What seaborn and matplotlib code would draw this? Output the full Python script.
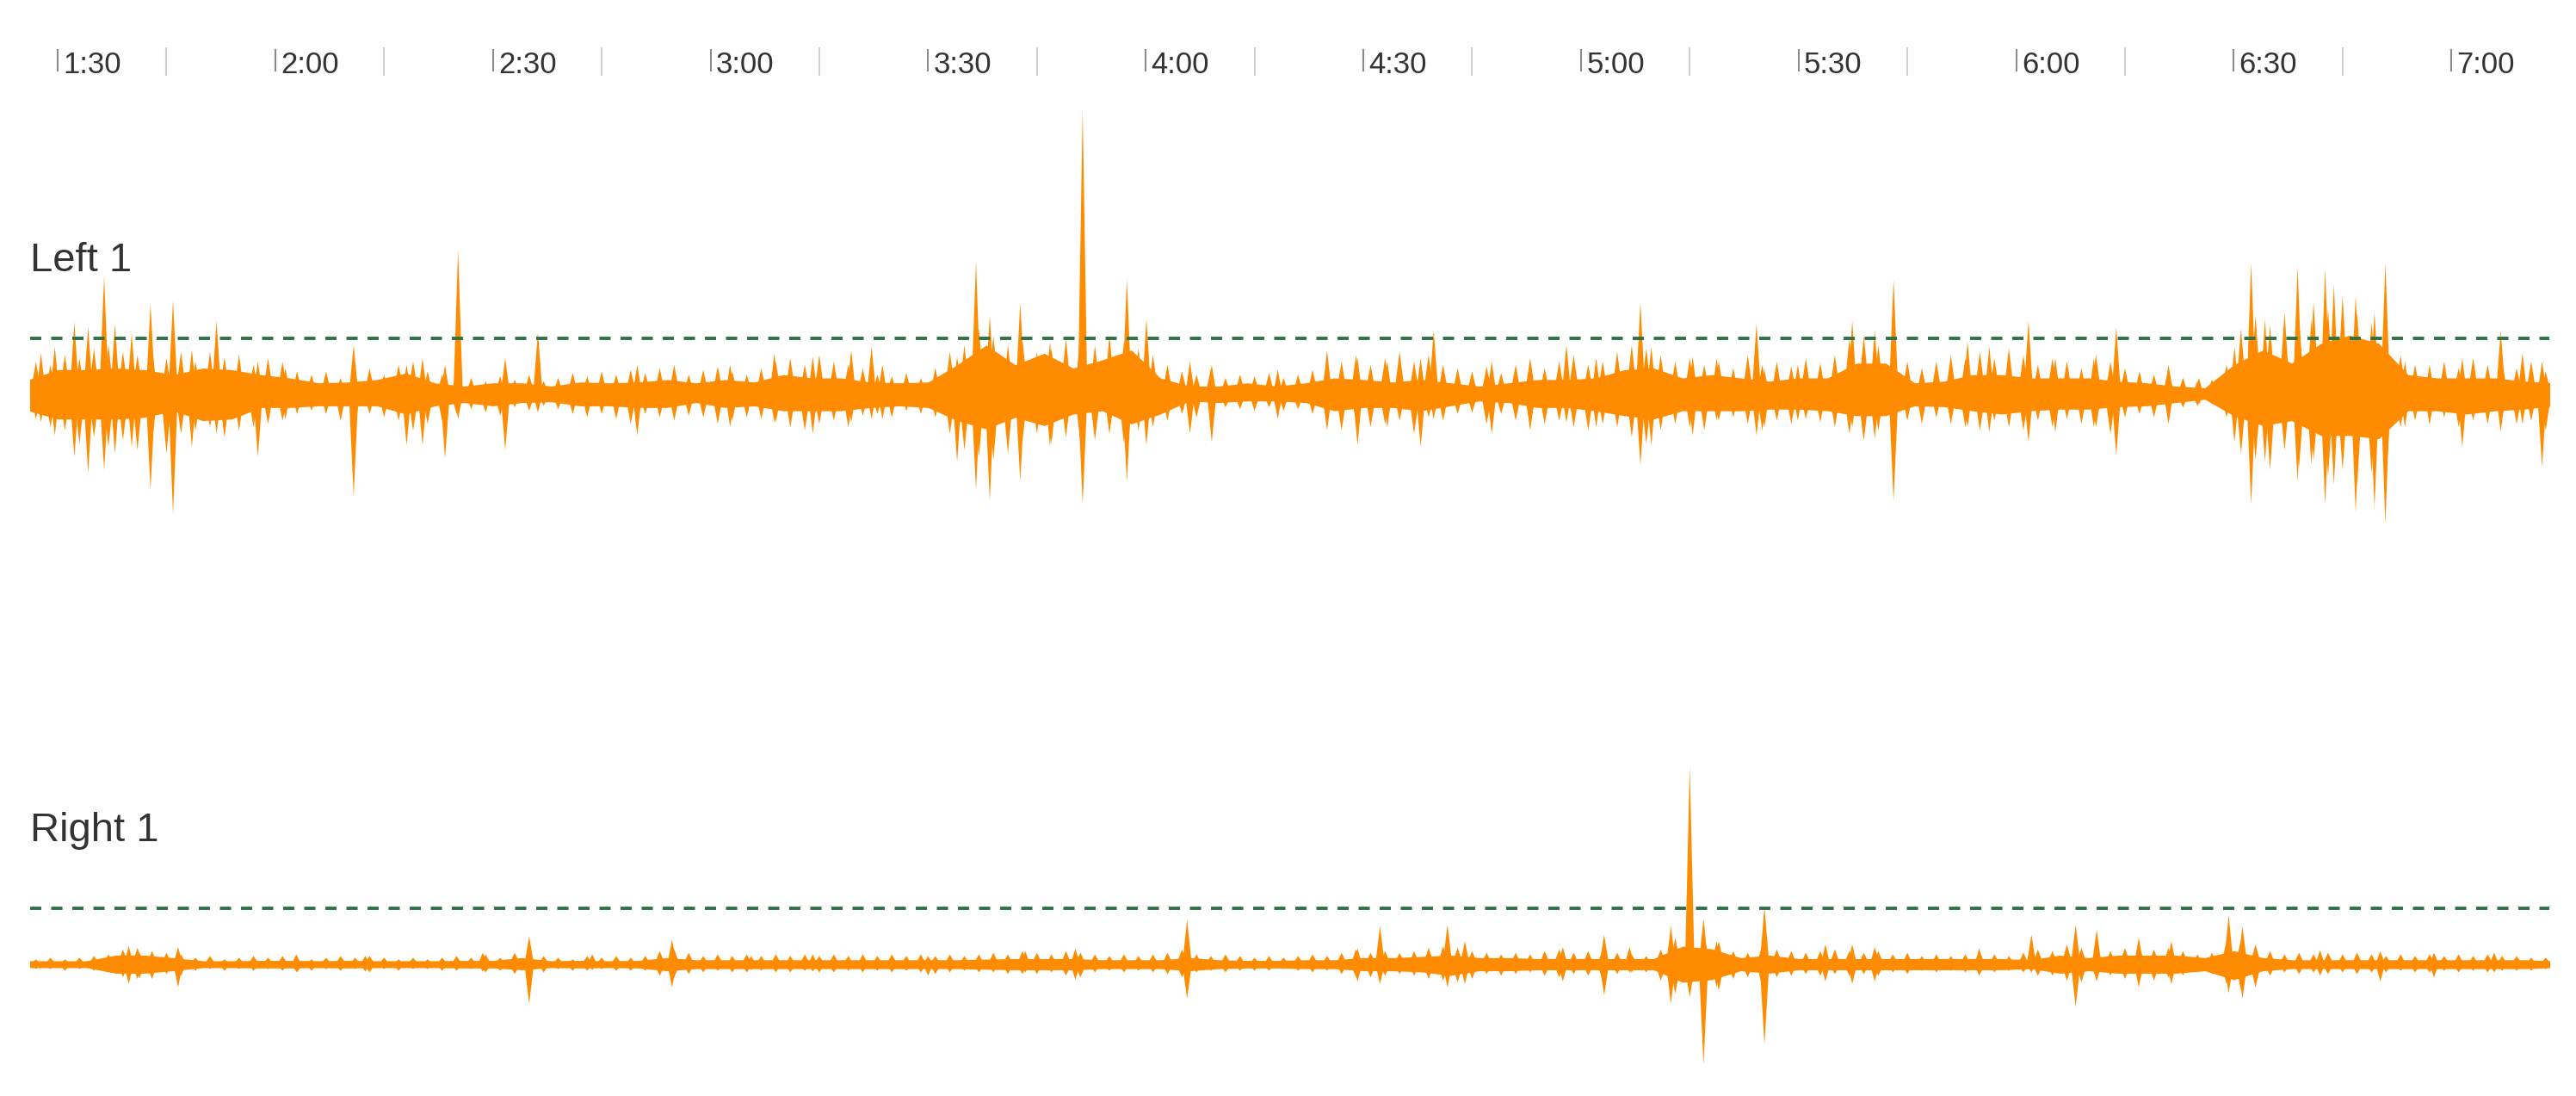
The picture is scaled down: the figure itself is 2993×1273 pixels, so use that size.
import numpy as np
import pandas as pd
import seaborn as sns
import matplotlib.pyplot as plt

# time window shown (seconds) and the alert threshold level
T_START, T_END = 86.2, 433.5
THRESHOLD = 34

# time axis
tick_seconds = [90, 120, 150, 180, 210, 240, 270, 300, 330, 360, 390, 420]
tick_labels = ["1:30", "2:00", "2:30", "3:00", "3:30", "4:00", "4:30", "5:00",
               "5:30", "6:00", "6:30", "7:00"]
minor_tick_seconds = [105, 135, 165, 195, 225, 255, 285, 315, 345, 375, 405]

# solid core of the waveform, one value every 4 s starting at 86 s
CORE_T0, CORE_STEP = 86, 4
left_core_up = [9, 15, 15, 16, 15, 12, 16, 15, 12, 10, 7, 7.5, 9, 13, 7, 5, 7, 7, 5, 7.5,
                7, 7.5, 9, 7, 9, 7.5, 12, 10, 10, 7.5, 7, 7.5, 18, 30, 18, 25, 16, 21, 27, 10,
                5, 5, 7, 5, 7, 10, 9, 7.5, 9, 7, 5, 7, 9, 9, 10, 15, 16, 10, 12, 10,
                8, 10, 10, 19, 19, 7, 8, 12, 12, 10, 10, 10, 8, 7, 5, 4, 18, 27,
                19, 31, 36, 31, 12, 10, 10, 10, 8, 7]
left_core_down = [10, 15, 15, 15, 14, 10, 16, 15, 8, 8, 7, 7, 7, 12, 7, 5, 7, 5, 4.5, 7,
                  7, 8, 8, 5, 8, 7, 10, 10, 10, 8, 7, 8, 16, 21, 14, 19, 12, 10, 18, 12,
                  4, 5, 4, 4, 5, 10, 8, 8, 10, 7, 4, 5, 8, 8, 10, 13, 15, 10, 10, 10,
                  9, 9, 10, 13, 13, 7, 7.5, 10, 12, 10, 9, 9, 7.5, 7, 5, 3, 13, 19,
                  16, 25, 25, 27, 10, 10, 12, 10, 9, 7]
right_core_up = [2.1, 2.1, 2.1, 5.5, 5.5, 3.9, 2.1, 2.1, 2.3, 2.3, 2.1, 2.3, 2.1, 2.1, 2.1, 2.3, 2.3, 4, 2.1, 2.3,
                 2.1, 2.3, 4, 2.7, 2.7, 2.7, 2.7, 2.7, 2.7, 2.7, 2.7, 2.7, 2.7, 3.1, 3.4, 3.4, 3.4, 2.7, 2.7, 2.7,
                 4, 2.7, 2.3, 2.3, 2.7, 2.7, 4, 4, 4.7, 5.5, 4, 4, 3.4, 3.4, 3.4, 3.4, 3.4, 11, 9.4, 4,
                 5.5, 3.4, 3.4, 3.4, 3.4, 3.4, 3.4, 3.4, 3.4, 2.7, 5.5, 4, 5.5, 5.5, 5.5, 4, 8.2, 4,
                 2.7, 2.7, 2.7, 2.7, 2.7, 2.7, 2.7, 2.7, 2.7, 2.1]
right_core_down = [2.1, 2.1, 2.1, 5.5, 5.5, 3.9, 2.1, 2.1, 2.3, 2.3, 2.1, 2.3, 2.1, 2.1, 2.1, 2.3, 2.3, 3.4, 2.1, 2.3,
                   2.1, 2.3, 4, 2.7, 2.7, 2.7, 2.7, 2.7, 2.7, 2.7, 2.7, 2.7, 2.7, 3.1, 3.4, 3.4, 3.4, 2.7, 2.7, 2.7,
                   4, 2.7, 2.3, 2.3, 2.7, 2.7, 4, 4, 4.7, 6.8, 4, 4, 3.4, 3.4, 3.4, 3.4, 3.4, 11, 9.4, 4,
                   5.5, 3.4, 3.4, 3.4, 3.4, 3.4, 3.4, 3.4, 3.4, 2.7, 5.5, 4, 5.5, 5.5, 5.5, 4, 9.4, 4,
                   2.7, 2.7, 2.7, 2.7, 2.7, 2.7, 2.7, 2.7, 2.7, 2.1]

# peak of the fine hair-like peaks in each 2 s step, starting at 87 s
HAIR_T0, HAIR_STEP = 87, 2
left_hair_up = [20, 18, 24, 22, 28, 30, 26, 24, 30, 22,
                26, 20, 26, 22, 24, 18, 22, 20, 14, 12,
                14, 10, 13, 16, 12, 18, 20, 14, 12, 14,
                10, 8, 11, 9, 12, 8, 10, 13, 11, 14,
                12, 15, 13, 16, 18, 12, 15, 17, 14, 12,
                16, 20, 22, 18, 24, 20, 18, 16, 12, 11,
                13, 10, 16, 26, 30, 40, 36, 30, 34, 26,
                28, 34, 38, 30, 36, 32, 28, 24, 18, 14,
                12, 16, 10, 12, 11, 13, 10, 12, 15, 22,
                20, 24, 18, 22, 26, 20, 24, 18, 16, 14,
                17, 13, 18, 22, 16, 20, 24, 18, 20, 26,
                30, 28, 24, 20, 22, 18, 20, 16, 24, 18,
                20, 17, 22, 19, 24, 34, 36, 30, 28, 20,
                16, 20, 24, 22, 26, 22, 28, 24, 18, 22,
                20, 16, 24, 20, 16, 14, 12, 16, 10, 8,
                9, 18, 40, 48, 42, 50, 46, 56, 52, 60,
                50, 44, 40, 24, 18, 16, 20, 16, 22, 18,
                20, 16, 20, 14]
left_hair_down = [15, 20, 22, 30, 26, 32, 28, 34, 30, 36,
                  24, 22, 20, 26, 22, 20, 18, 16, 12, 10,
                  12, 16, 18, 12, 14, 16, 22, 18, 16, 12,
                  9, 11, 13, 8, 10, 7, 9, 12, 14, 12,
                  15, 18, 12, 14, 16, 13, 14, 18, 16, 14,
                  15, 17, 20, 22, 18, 16, 20, 13, 12, 14,
                  10, 12, 14, 24, 34, 38, 40, 36, 28, 24,
                  30, 26, 30, 28, 24, 30, 22, 20, 16, 12,
                  14, 10, 8, 9, 10, 8, 10, 9, 12, 18,
                  22, 16, 20, 18, 16, 24, 14, 16, 12, 11,
                  18, 12, 16, 20, 18, 16, 20, 22, 18, 20,
                  26, 30, 22, 18, 20, 22, 16, 14, 18, 22,
                  16, 18, 15, 17, 20, 24, 28, 22, 30, 16,
                  18, 14, 18, 20, 22, 16, 20, 22, 16, 20,
                  15, 18, 20, 24, 14, 12, 14, 12, 8, 7,
                  6, 14, 36, 40, 46, 34, 44, 40, 50, 46,
                  56, 48, 52, 20, 16, 18, 14, 20, 16, 18,
                  14, 18, 16, 22]
right_hair_up = [3, 4, 3, 4, 5, 6, 9, 10, 8, 7,
                 6, 4, 5, 3, 4, 5, 4, 5, 4, 3,
                 4, 5, 4, 5, 4, 3, 4, 3, 4, 5,
                 4, 6, 4, 7, 8, 5, 4, 3, 5, 4,
                 5, 4, 5, 8, 9, 7, 5, 6, 5, 6,
                 5, 6, 5, 6, 5, 6, 5, 6, 5, 6,
                 5, 6, 5, 6, 5, 6, 7, 6, 8, 7,
                 6, 8, 7, 6, 5, 6, 5, 6, 7, 9,
                 6, 5, 6, 5, 4, 5, 4, 5, 6, 5,
                 7, 9, 7, 8, 7, 8, 10, 11, 10, 8,
                 7, 6, 7, 6, 8, 9, 7, 8, 9, 7,
                 6, 5, 9, 16, 18, 16, 14, 8, 7, 12,
                 9, 8, 7, 8, 9, 8, 7, 8, 6, 7,
                 5, 6, 5, 6, 7, 6, 5, 7, 9, 8,
                 12, 10, 9, 8, 10, 11, 9, 10, 8, 6,
                 7, 14, 15, 12, 8, 6, 7, 6, 7, 6,
                 7, 6, 5, 6, 5, 6, 5, 6, 5, 6,
                 5, 5, 4, 4]
right_hair_down = [3, 3, 4, 3, 4, 5, 8, 9, 9, 6,
                   7, 4, 3, 4, 3, 4, 3, 4, 5, 4,
                   3, 4, 3, 5, 3, 4, 3, 3, 4, 4,
                   3, 5, 4, 6, 7, 5, 3, 4, 4, 3,
                   4, 4, 4, 7, 8, 6, 5, 4, 5, 5,
                   4, 5, 5, 4, 5, 5, 4, 5, 4, 5,
                   4, 5, 6, 5, 4, 5, 5, 6, 6, 6,
                   5, 7, 8, 5, 4, 5, 4, 5, 6, 8,
                   5, 4, 5, 4, 4, 4, 3, 4, 5, 4,
                   6, 8, 8, 7, 6, 7, 9, 10, 11, 9,
                   6, 7, 6, 5, 7, 8, 6, 7, 10, 6,
                   5, 5, 10, 18, 20, 22, 16, 9, 8, 14,
                   8, 7, 6, 7, 6, 7, 6, 7, 5, 6,
                   4, 5, 4, 5, 6, 5, 4, 5, 7, 7,
                   10, 11, 8, 7, 9, 10, 10, 8, 7, 5,
                   6, 12, 16, 14, 7, 5, 6, 5, 6, 5,
                   6, 5, 5, 4, 5, 5, 4, 5, 4, 5,
                   4, 4, 4, 3]

# individual large peaks: time (s), height above and depth below the centre line
left_spike_t = [87.7, 89.6, 92.3, 94.2, 96.4, 97.9, 100.2, 102.8, 105.9, 108.5, 111.9, 113.0,
                117.6, 121.4, 130.8, 138.1, 140.3, 143.4, 145.2, 151.7, 156.2, 169.9, 182.7,
                188.8, 194.1, 199.4, 202.2, 203.7, 214.0, 216.6, 218.5, 222.7, 226.8, 231.3,
                237.4, 240.1, 246.1, 249.1, 258.2, 265.0, 269.2, 273.3, 277.9, 279.7, 287.7,
                293.0, 298.0, 302.1, 308.2, 309.7, 315.4, 318.7, 324.2, 325.3, 329.9, 337.4,
                338.9, 340.5, 343.1, 353.3, 356.3, 361.7, 365.4, 370.7, 373.8, 381.0, 385.2,
                390.1, 392.4, 394.3, 398.8, 400.7, 402.6, 403.8, 406.8, 409.4, 410.9, 413.6,
                417.0, 421.5, 426.8, 429.8, 432.5]
left_spike_up = [25, 29, 44, 41, 72, 43, 37, 55, 57, 27, 45, 22,
                 20, 16, 30, 18, 22, 18, 88, 22, 38, 18, 18,
                 25, 23, 27, 29, 18, 23, 81, 48, 56, 32, 173,
                 70, 46, 20, 18, 15, 27, 22, 20, 22, 39, 20,
                 20, 30, 22, 56, 29, 23, 22, 43, 15, 18, 45,
                 29, 39, 70, 32, 29, 45, 22, 22, 41, 18, 10,
                 29, 80, 46, 78, 46, 76, 67, 60, 50, 80, 20,
                 18, 22, 39, 25, 20]
left_spike_down = [17, 25, 38, 48, 46, 36, 32, 58, 73, 32, 24, 25,
                   38, 15, 62, 31, 31, 39, 15, 34, 11, 25, 20,
                   17, 24, 17, 15, 15, 41, 58, 65, 53, 32, 67,
                   53, 31, 24, 29, 15, 22, 31, 20, 32, 15, 24,
                   22, 17, 20, 43, 31, 25, 16, 25, 20, 16, 20,
                   25, 27, 65, 20, 23, 29, 23, 20, 37, 18, 6,
                   29, 67, 41, 53, 43, 67, 55, 72, 69, 79, 20,
                   18, 32, 23, 18, 44]
right_spike_t = [99.8, 101.3, 106.6, 122.9, 132.4, 148.6, 155.0, 163.7, 174.7, 185.6, 194.1,
                 210.0, 223.4, 230.3, 245.7, 269.2, 272.3, 281.6, 284.0, 297.5, 303.2, 306.7,
                 312.4, 315.0, 316.9, 318.7, 325.3, 333.7, 337.4, 340.5, 354.9, 362.1, 368.2,
                 371.1, 376.9, 381.4, 389.3, 391.2, 401.9, 410.2, 417.6, 425.9]
right_spike_up = [11, 7, 10.5, 6, 5, 7, 17, 6, 15, 5, 6,
                  5, 8, 9.5, 27, 9.5, 23, 24, 14, 10.5, 18, 10.5,
                  23, 120, 28, 14, 35, 12, 12, 10.5, 9.5, 18, 24,
                  21, 16, 14, 30, 23, 8.5, 8, 7, 7]
right_spike_down = [12, 8.5, 14, 4.5, 4.5, 4.5, 24, 3.5, 14, 3.5, 4.5,
                    7, 5, 9.5, 21, 10.5, 12, 14, 12, 10.5, 19, 5,
                    24, 16, 61, 14, 49, 10.5, 12, 10.5, 7, 5, 26,
                    10.5, 14, 12, 17.5, 21, 7, 10.5, 8, 5]

ORANGE = "#ff8c00"
GREEN = "#2d7345"
TEXT = "#333333"
SPIKE_W = 1.3
HAIR_W = 1.5

sns.set_style("white")
plt.rcParams["font.family"] = ["Liberation Sans", "DejaVu Sans"]

fig = plt.figure(figsize=(29.93, 12.73), dpi=100)
left, width = 35 / 2993, 2927 / 2993


def draw_peaks(ax, ts, ups, downs, w):
    for t, u, d in zip(ts, ups, downs):
        ax.fill([t - w / 2, t, t + w / 2, t], [0, u, 0, -d], color=ORANGE, lw=0)


def draw_channel(ax, name, core_up, core_down, hair_up, hair_down,
                 sp_t, sp_up, sp_down, ylim):
    core = pd.DataFrame({"t": CORE_T0 + CORE_STEP * np.arange(len(core_up)),
                         "up": core_up, "down": core_down})
    ax.fill_between(core["t"], core["up"], -core["down"], color=ORANGE, lw=0)
    hair_t = HAIR_T0 + HAIR_STEP * np.arange(len(hair_up))
    draw_peaks(ax, hair_t, hair_up, hair_down, HAIR_W)
    draw_peaks(ax, sp_t, sp_up, sp_down, SPIKE_W)
    sns.lineplot(x=[T_START, T_END], y=[THRESHOLD, THRESHOLD], ax=ax,
                 color=GREEN, lw=2.8)
    ax.lines[-1].set_dashes([3.35, 2.95])
    ax.annotate(name, xy=(0, 75), xycoords=("axes fraction", "data"),
                fontsize=34, color=TEXT, va="baseline", ha="left")
    ax.set_xlim(T_START, T_END)
    ax.set_ylim(*ylim)
    ax.set_axis_off()


ax_top = fig.add_axes([left, 1 - 660 / 1273, width, 560 / 1273])
draw_channel(ax_top, "Left 1", left_core_up, left_core_down,
             left_hair_up, left_hair_down,
             left_spike_t, left_spike_up, left_spike_down, (-105.8, 187.6))

ax_bot = fig.add_axes([left, 0, width, 413 / 1273])
draw_channel(ax_bot, "Right 1", right_core_up, right_core_down,
             right_hair_up, right_hair_down,
             right_spike_t, right_spike_up, right_spike_down, (-80.2, 136.2))

# time ruler along the top
ax_t = fig.add_axes([left, 1 - 100 / 1273, width, 60 / 1273])
ax_t.vlines(minor_tick_seconds, 0.2, 0.75, color="#d0d0d0", lw=1.5)
ax_t.vlines(tick_seconds, 0.28, 0.72, color="#8c8c8c", lw=1.5)
for s, lab in zip(tick_seconds, tick_labels):
    ax_t.annotate(lab, xy=(s, 0.25), xytext=(4.5, 0), textcoords="offset points",
                  fontsize=25, color=TEXT, va="baseline", ha="left")
ax_t.set_xlim(T_START, T_END)
ax_t.set_ylim(0, 1)
ax_t.set_axis_off()

fig.savefig("out.png", dpi=100)
